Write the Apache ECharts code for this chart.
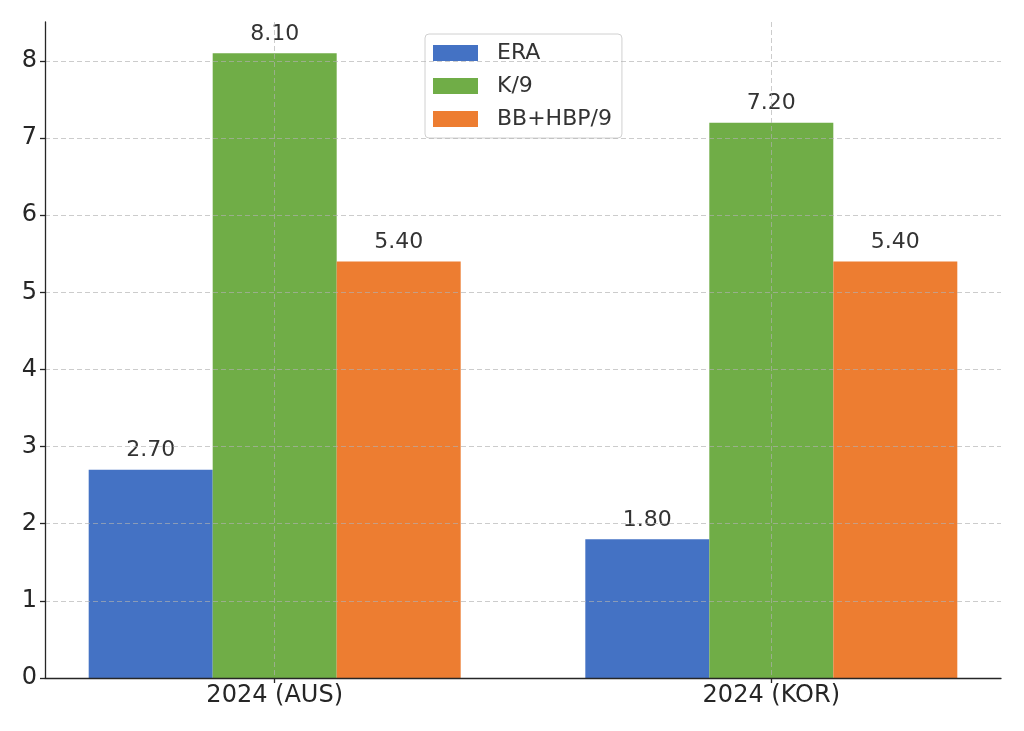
<!DOCTYPE html>
<html>
<head>
<meta charset="utf-8">
<script src="https://cdn.jsdelivr.net/npm/echarts@6/dist/echarts.min.js"></script>
<style>
  html, body { margin: 0; padding: 0; background: #fff; }
  #chart { width: 1024px; height: 731px; }
</style>
</head>
<body>
<div id="chart"></div>
<script>
const categories = ["2024 (AUS)", "2024 (KOR)"];
const seriesNames = ["ERA", "K/9", "BB+HBP/9"];
const era = [2.7, 1.8];
const k9 = [8.1, 7.2];
const bbHbp9 = [5.4, 5.4];
const yTicks = [0, 1, 2, 3, 4, 5, 6, 7, 8];

const colors = ["#4472C4", "#70AD47", "#ED7D31"];
const font = "DejaVu Sans";
const ink = "#262626";
const gridLine = { color: "rgba(176,176,176,0.65)", type: [5, 3], width: 1 };

const chart = echarts.init(document.getElementById("chart"), null, { renderer: "canvas" });

function barSeries(name, values, index) {
  return {
    name,
    type: "bar",
    barWidth: 124,
    barGap: "0%",
    itemStyle: { color: colors[index] },
    label: {
      show: true,
      position: "top",
      distance: 8,
      color: "#333",
      fontFamily: font,
      fontSize: 22,
      formatter: (p) => p.value[1].toFixed(2),
    },
    data: values.map((v, i) => [i, v]),
  };
}

chart.setOption({
  animation: false,
  textStyle: { fontFamily: font },
  grid: { left: 45, right: 23, top: 22, bottom: 53 },
  legend: {
    orient: "vertical",
    left: 425,
    top: 34,
    padding: [8, 10, 8, 8],
    itemWidth: 45,
    itemHeight: 16,
    itemGap: 11,
    icon: "rect",
    borderColor: "#d0d0d0",
    borderWidth: 1,
    borderRadius: 4,
    backgroundColor: "rgba(255,255,255,0.85)",
    textStyle: { color: "#333", fontFamily: font, fontSize: 22, padding: [0, 0, 0, 14] },
    data: seriesNames,
  },
  xAxis: {
    type: "value",
    min: -0.4625,
    max: 1.4625,
    z: 5,
    axisLine: { show: true, onZero: false, lineStyle: { color: ink, width: 1.3 } },
    axisTick: { show: true, length: 5, customValues: [0, 1], lineStyle: { color: ink, width: 1.3 } },
    axisLabel: {
      customValues: [0, 1],
      color: ink,
      fontFamily: font,
      fontSize: 24,
      margin: 6,
      formatter: (v) => categories[Math.round(v)],
    },
    splitLine: { show: true, lineStyle: gridLine },
  },
  yAxis: {
    type: "value",
    min: 0,
    max: 8.505,
    z: 5,
    axisLine: { show: true, onZero: false, lineStyle: { color: ink, width: 1.3 } },
    axisTick: { show: true, length: 5, customValues: yTicks, lineStyle: { color: ink, width: 1.3 } },
    axisLabel: {
      customValues: yTicks,
      color: ink,
      fontFamily: font,
      fontSize: 24,
      margin: 8,
    },
    splitLine: { show: true, lineStyle: gridLine },
  },
  series: [
    barSeries(seriesNames[0], era, 0),
    barSeries(seriesNames[1], k9, 1),
    barSeries(seriesNames[2], bbHbp9, 2),
  ],
});
</script>
</body>
</html>
